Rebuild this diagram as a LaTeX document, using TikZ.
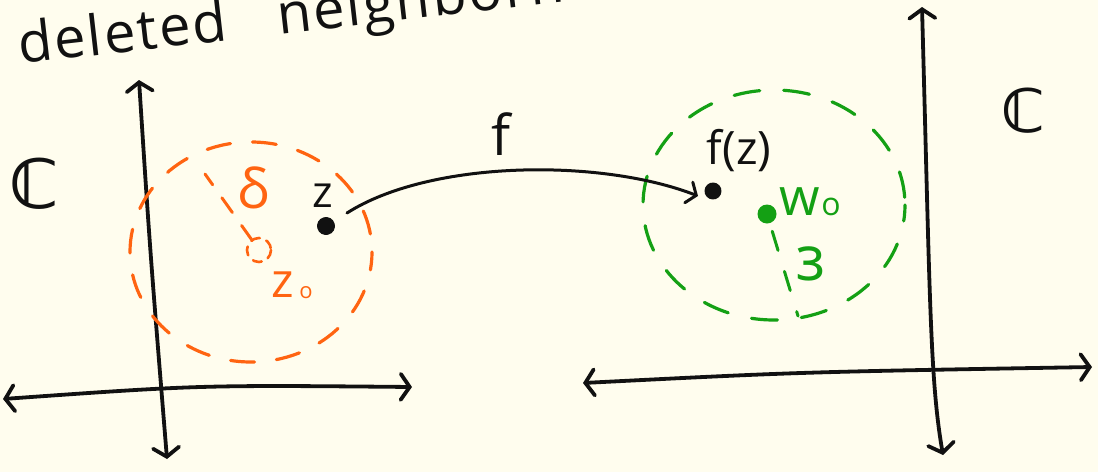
\documentclass[tikz,border=0pt]{standalone}
\usepackage{fontspec}
\setmainfont{Open Sans}
\newfontfamily\symfont{DejaVu Sans}
\newfontfamily\titlefont[LetterSpace=4,WordSpace=3]{Open Sans}
\usetikzlibrary{arrows.meta,calc}
\definecolor{paper}{HTML}{FFFDEE}
\definecolor{ink}{HTML}{111111}
\definecolor{orangeink}{HTML}{FF6411}
\definecolor{greenink}{HTML}{14A014}
\tikzset{
  axis/.style={draw=ink, line width=3.8pt, line cap=round,
    {Straight Barb[length=9pt,width=26pt,line width=3.8pt,line cap=round]}-{Straight Barb[length=9pt,width=26pt,line width=3.8pt,line cap=round]}},
  orangedash/.style={draw=orangeink, line width=3.2pt, line cap=round, dash pattern=on 24pt off 22pt},
  greendash/.style={draw=greenink, line width=3.2pt, line cap=round, dash pattern=on 26pt off 24pt},
  hand/.style={inner sep=0pt, anchor=base},
  dotnode/.style={circle, inner sep=0pt, minimum size=16pt},
  maparrow/.style={draw=ink, line width=3pt, line cap=round,
    -{Straight Barb[length=8pt,width=22pt,line width=3pt,line cap=round]}}
}
\begin{document}
\begin{tikzpicture}[x=1pt,y=-1pt]
  \useasboundingbox[fill=paper] (0,0) rectangle (1098,472);

  % heading, partly above the page edge
  \node[hand, anchor=base west, rotate=6.5, text=ink,
        font=\titlefont\fontsize{56}{60}\selectfont] (title) at (20,64) {deleted neighborhood};

  % left complex plane
  \coordinate (lvt) at (139,80);
  \coordinate (lvb) at (167,459);
  \coordinate (lhl) at (3,399);
  \coordinate (lhr) at (412,387);
  \draw[axis] (lvt) .. controls (150,250) .. (lvb);
  \draw[axis] (lhl) .. controls (200,385) .. (lhr);
  \node[hand, text=ink, font=\symfont\bfseries\fontsize{68}{68}\selectfont] (cl) at (34,208) {ℂ};

  % right complex plane
  \coordinate (rvt) at (922,7);
  \coordinate (rvb) at (943,455);
  \coordinate (rhl) at (583,383);
  \coordinate (rhr) at (1092,367);
  \draw[axis] (rvt) .. controls (930,300) and (930,380) .. (rvb);
  \draw[axis] (rhl) .. controls (800,372) .. (rhr);
  \node[hand, text=ink, font=\symfont\bfseries\fontsize{60}{60}\selectfont] (cr) at (1024,132) {ℂ};

  % delta neighbourhood of z0
  \coordinate (z0) at (259,250);
  \draw[orangedash, dash phase=6pt] (251,252) ellipse [x radius=121, y radius=110];
  \draw[draw=orangeink, line width=2.6pt, line cap=round, dash pattern=on 9pt off 7pt] (z0) circle [radius=12];
  \coordinate (deltaend) at (205,174);
  \draw[draw=orangeink, line width=3pt, line cap=round, dash pattern=on 18pt off 16pt]
    ($(z0)!12pt!(deltaend)$) -- (deltaend);
  \node[hand, text=orangeink, font=\fontsize{55}{55}\selectfont] (delta) at (253,208) {δ};
  \node[hand, text=orangeink, font=\fontsize{48}{48}\selectfont] (z0lab) at (283,297) {z};
  \node[hand, text=orangeink, font=\fontsize{22}{22}\selectfont] (z0sub) at (306,298) {o};

  % the point z and its image
  \node[dotnode, fill=ink, minimum width=15pt, minimum height=18pt, rotate=15] (z) at (326,226) {};
  \node[hand, text=ink, font=\fontsize{44}{44}\selectfont] (zlab) at (323,207) {z};

  % epsilon neighbourhood of w0
  \draw[greendash, dash phase=10pt] (774,205) ellipse [x radius=131, y radius=115];
  \node[dotnode, fill=greenink, minimum size=19pt] (w0) at (767,214) {};
  \coordinate (epsend) at (798,316);
  \draw[draw=greenink, line width=3pt, line cap=round, dash pattern=on 20pt off 22pt]
    ($(w0)!18pt!(epsend)$) -- (epsend);
  \node[hand, text=greenink, font=\fontsize{52}{52}\selectfont] (wlab) at (800,215) {w};
  \node[hand, text=greenink, font=\fontsize{32}{32}\selectfont] (wsub) at (831,215) {o};
  \node[hand, text=greenink, font=\fontsize{62}{62}\selectfont, xscale=-1] (eps) at (811,280) {ε};

  \node[dotnode, fill=ink, minimum width=13pt, minimum height=17pt, rotate=20] (fz) at (713,191) {};
  \node[hand, text=ink, font=\fontsize{46}{46}\selectfont] (fzlab) at (739,164) {f(z)};

  % the map f
  \coordinate (fstart) at (347,213);
  \coordinate (fend) at (698,196);
  \draw[maparrow] (fstart) .. controls (430,160) and (600,158) .. (fend);
  \node[hand, text=ink, font=\fontsize{56}{56}\selectfont] (flab) at (501,155) {f};
\end{tikzpicture}
\end{document}
